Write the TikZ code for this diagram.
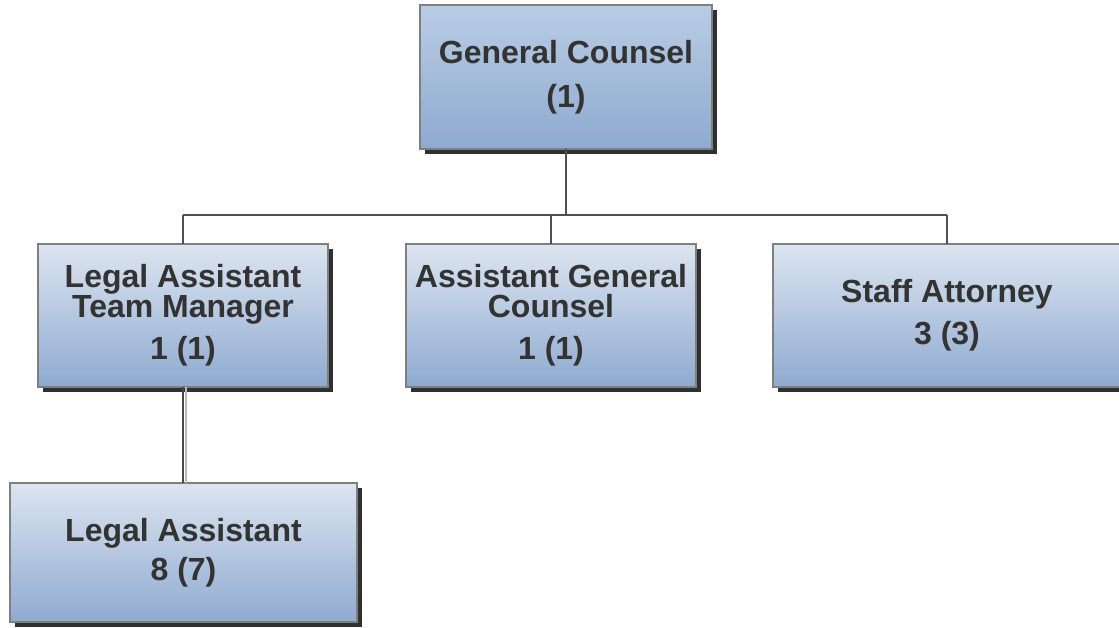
\documentclass[tikz,border=0pt]{standalone}
\usepackage{fontspec}
\setmainfont{Liberation Sans}
\usetikzlibrary{shadows}
\definecolor{boxtop}{HTML}{DCE5F0}
\definecolor{boxbot}{HTML}{8FAAD0}
\definecolor{toptop}{HTML}{B9CCE4}
\definecolor{topbot}{HTML}{8EAAD0}
\definecolor{frame}{HTML}{7F7F7F}
\definecolor{ink}{HTML}{333333}
\definecolor{wire}{HTML}{505050}
\tikzset{
  orgbox/.style={rectangle, anchor=north west, inner sep=0pt, outer sep=0pt,
    draw=frame, line width=1.4pt, top color=boxtop, bottom color=boxbot,
    align=center, text=ink, font=\fontsize{32}{42}\selectfont\bfseries,
    drop shadow={shadow xshift=5pt, shadow yshift=-5pt, opacity=0.9, fill=black!90}},
  headbox/.style={orgbox, top color=toptop, bottom color=topbot},
  wire/.style={draw=wire, line width=1.3pt},
  tiewire/.style={draw=wire!90!black, line width=2pt},
  tieglow/.style={draw=gray!55, line width=2pt}
}
\begin{document}
\begin{tikzpicture}[x=1pt, y=-1pt]
  \useasboundingbox (0,0) rectangle (1119,627);
  % boxes
  \node[headbox, minimum width=292pt, minimum height=144pt] (gc) at (420,5)
    {General Counsel\\[2pt](1)};
  \node[orgbox, minimum width=290pt, minimum height=143pt] (latm) at (38,244)
    {Legal Assistant\\[-12pt]Team Manager\\1 (1)};
  \node[orgbox, minimum width=290pt, minimum height=143pt] (agc) at (406,244)
    {Assistant General\\[-12pt]Counsel\\1 (1)};
  \node[orgbox, minimum width=348pt, minimum height=143pt] (sa) at (773,244)
    {Staff Attorney\\3 (3)};
  \node[orgbox, minimum width=347pt, minimum height=139pt] (la) at (10,483)
    {Legal Assistant\\[-3pt]8 (7)};
  % connectors
  \coordinate (bus) at (565,215);
  \draw[wire] (gc.south) -- (gc.south |- bus);
  \draw[wire] (latm.north |- bus) -- (sa.north |- bus);
  \draw[wire] (latm.north |- bus) -- (latm.north);
  \draw[wire] (agc.north |- bus) -- (agc.north);
  \draw[wire] (sa.north |- bus) -- (sa.north);
  \draw[tieglow] ([xshift=3pt]latm.south) -- ([xshift=3pt]la.north -| latm.south);
  \draw[tiewire] (latm.south) -- (la.north -| latm.south);
\end{tikzpicture}
\end{document}
